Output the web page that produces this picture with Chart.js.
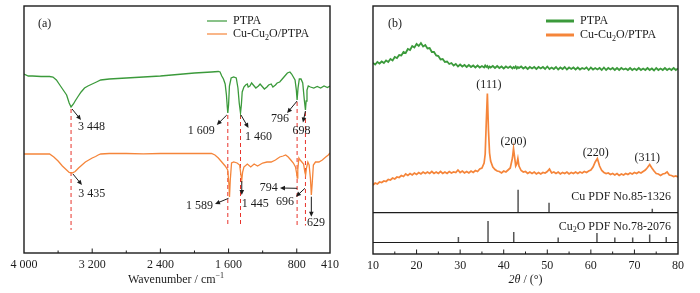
<!DOCTYPE html>
<html>
<head>
<meta charset="utf-8">
<script src="https://cdn.jsdelivr.net/npm/chart.js@4.4.1/dist/chart.umd.min.js"></script>
<style>
html,body{margin:0;padding:0;background:#fff;}
#wrap{position:relative;width:700px;height:293px;overflow:hidden;}
#wrap canvas{position:absolute;top:0;}
#ftir{left:0;}
#xrd{left:350px;}
</style>
</head>
<body>
<div id="wrap">
<canvas id="ftir" width="350" height="293"></canvas>
<canvas id="xrd" width="350" height="293"></canvas>
</div>
<script>
/* ---- (a) FTIR data, transmittance in arbitrary units ---- */
const ptpaWn = [4000,3950,3900,3800,3700, 3660,3620,3580,3540,3500, 3470,3448,3420,3400,3370,
  3330,3290,3250,3200,3150, 3100,3000,2900,2800,2600, 2400,2200,2000,1900,1800,
  1720,1700,1680,1660,1640, 1625,1615,1609,1600,1590, 1570,1540,1510,1490,1475,
  1460,1450,1440,1420,1400, 1380,1370,1350,1330,1300, 1280,1250,1230,1200,1180,
  1150,1130,1100,1080,1050, 1030,1000,970,940,910, 880,860,840,820,805,
  796,785,770,750,730, 710,698,690,680,665, 640,600,560,520,480, 440,410];
const ptpaT = [179,177,177,176.5,176.5, 176,173,168,163,158, 150,146,149,152,156,
  161,165,167,169,171, 173,174,174.5,175,176, 177,178.5,180,180.5,181,
  181.5,181,177,174,169, 158,146,140,148,167, 175,176,175,165,150,
  140,148,161,166,168, 169,166,167,170,167, 165,167,169,166,164,
  166,168,169,166,168, 170,171,174,177,180, 181,179,176,173,163,
  153,165,174,174,170, 152,143,152,163,167, 166,165,166.5,165,167, 165.5,167];

const compWn = [4000,3900,3800,3700,3650, 3600,3550,3500,3470,3435, 3400,3360,3320,3280,3240,
  3200,3160,3130,3100,3000, 2800,2600,2400,2200,2000, 1800,1760,1720,1680,1640,
  1610,1595,1589,1580,1565, 1540,1500,1470,1455,1445, 1435,1420,1380,1340,1300,
  1260,1200,1150,1100,1050, 1000,960,930,900,870, 840,815,800,794,788,
  775,760,740,720,705, 696,686,670,655,640, 629,620,605,580,540, 500,460,430,410];
const compT = [99,99,99,99,96, 92,87,83,80.5,80, 81.5,85,88,91,93,
  95,96.5,98,99,99.5, 99.5,99.2,99.5,99.7,99.5, 99.5,98,95,91,87,
  83,68,56,73,90, 91,90,88,78,73, 81,86,89,86,89,
  87,90,91,91,93, 96,97,98,96,93, 90,86,79,75,83,
  95,93,91,89,81, 78,85,91,88,75, 58,68,88,91,91, 93,96,98,100];

const ftirTicks = [4000,3200,2400,1600,800,410];
const ftirMinor = [3600,2800,2000,1200];

/* ---- (b) XRD data, intensity in arbitrary units ---- */
const theta = [10,10.5,11,11.5,12,12.5,13,13.5,14,14.5, 15,15.5,16,16.5,17,17.5,18,18.5,19,19.5,
  20,20.5,21,21.5,22,22.5,23,23.5,24,24.5, 25,25.5,26,26.5,27,27.5,28,28.5,29,29.5,
  30,30.5,31,31.5,32,32.5,33,33.5,34,34.5, 35,35.5,35.75,36,36.25,36.5,36.75,37,37.5,38,
  38.5,39,39.5,40,40.5,41,41.5,42,42.25,42.5, 42.75,43,43.25,43.5,44,44.5,45,45.5,46,46.5,
  47,47.5,48,48.5,49,49.5,50,50.5,51,51.5, 52,52.5,53,53.5,54,54.5,55,55.5,56,56.5,
  57,57.5,58,58.5,59,59.5,60,60.5,61,61.5, 62,62.5,63,63.5,64,64.5,65,65.5,66,66.5,
  67,67.5,68,68.5,69,69.5,70,70.5,71,71.5, 72,72.5,73,73.5,74,74.5,75,75.5,76,76.5,
  77,77.5,78,78.5,79,79.5,80];
const ptpaI = [191,189.5,192,190.5,192.5,191,193.5,192,195,193.5, 197,196,199,198.5,202,201,205,204,208,206.5,
  210,208,211,207.5,209,205.5,206,202,202,198.5, 198,194.5,195,192,192.5,190,191,188.5,190,187.5,
  189.5,187.5,189,187,189,187,188.5,186.5,188.5,186.5, 188,186.5,188.5,187,188,186,187.5,186.5,188,186,
  188,186,187.5,185.5,187.5,186,187.5,185.5,187,186, 187.5,185.5,187,186,187.5,185.5,187,185,187,185.5,
  187,185,187,185.5,187,185,187.5,185,186.5,185, 187,184.5,186.5,185,187,184.5,186.5,185,186.5,184.5,
  186.5,184.5,186,185,186.5,184,186.5,184.5,186,184.5, 186,184,186.5,184,186,184.5,186,184,186,184,
  186,184.5,185.5,184,186,184,185.5,184,186,184, 185.5,184,186,184,185.5,183.5,186,184,185.5,184,
  186,184,185.5,184,186,184,185.5];
const compI = [69,71,70,72,71.5,73,72.5,74.5,74,76, 75,77,76.5,78.5,77.5,80,78.5,80.5,79,81,
  79.5,81.5,80,82,80.5,82,80.5,82.5,80.5,82, 80.5,82.5,80.5,82,80.5,82.5,81,82,81.5,84,
  81.5,83,81,82.5,81,83,81.5,83.5,82.5,85, 86,91,100,132,160.5,124,101,93,87,84.5,
  83,82.5,81,83,82,84,86,96,105.5,97, 88,90,95.5,88,83.5,82,82.5,80.5,82,80.5,
  82,80,81.5,80,81.5,81,82.5,85,81,82, 80.5,82,80,81.5,80.5,82,80,81.5,80.5,82,
  80.5,82,81,82.5,81.5,83,84,87,92,95.5, 88,83.5,81.5,80.5,81,79.5,80.5,79,80.5,78.5,
  80,79,80.5,79.5,81,80,81.5,80.5,82,81, 82.5,84,86.5,89.5,86,83,80.5,80,78.5,80,
  80.5,82,79,78.5,77.5,78,77];

// reference patterns, relative intensity (%)
const cuPdfTheta = [43.3, 50.4, 74.1];
const cuPdfI = [100, 43, 17];
const cu2oPdfTheta = [29.6, 36.4, 42.3, 52.5, 61.4, 65.5, 69.6, 73.5, 77.3];
const cu2oPdfI = [26, 100, 49, 23, 44, 23, 23, 37, 26];

const xrdTicks = [20,30,40,50,60,70];
const xrdMinor = [15,25,35,45,55,65,75];

/* ---- styles ---- */
const green = '#3b9a3b';
const orange = '#f5853a';
const red = '#e8332b';
const ink = '#1c1c1c';
const serif = '"Liberation Serif", "Times New Roman", serif';

function fontOf(p){ return (p.i?'italic ':'') + (p.s?8:12) + 'px ' + serif; }

function rich(ctx, parts, x, y, align){
  let w = 0;
  parts.forEach(p=>{ ctx.font = fontOf(p); w += ctx.measureText(p.t).width; });
  let cx = align==='center' ? x - w/2 : align==='right' ? x - w : x;
  ctx.textAlign = 'left';
  ctx.textBaseline = 'middle';
  parts.forEach(p=>{
    ctx.font = fontOf(p);
    let dy = p.s==='sub' ? 3.5 : p.s==='sup' ? -4 : 0;
    ctx.fillText(p.t, cx, y + dy);
    cx += ctx.measureText(p.t).width;
  });
}

function arrow(ctx, x1, y1, x2, y2){
  let ang = Math.atan2(y2-y1, x2-x1), L = 5, W = 2.3;
  ctx.beginPath();
  ctx.moveTo(x1, y1);
  ctx.lineTo(x2 - Math.cos(ang)*L*0.8, y2 - Math.sin(ang)*L*0.8);
  ctx.stroke();
  ctx.beginPath();
  ctx.moveTo(x2, y2);
  ctx.lineTo(x2 - L*Math.cos(ang) + W*Math.sin(ang), y2 - L*Math.sin(ang) - W*Math.cos(ang));
  ctx.lineTo(x2 - L*Math.cos(ang) - W*Math.sin(ang), y2 - L*Math.sin(ang) + W*Math.cos(ang));
  ctx.closePath();
  ctx.fill();
}

function frameAndTicks(chart, majors, minors){
  const {ctx, chartArea:a, scales:{x}} = chart;
  ctx.strokeStyle = ink;
  ctx.lineWidth = 1;
  majors.concat(minors).forEach(v=>{
    let px = x.getPixelForValue(v), len = majors.includes(v) ? 4.5 : 2.5;
    ctx.beginPath(); ctx.moveTo(px, a.bottom); ctx.lineTo(px, a.bottom - len); ctx.stroke();
  });
  ctx.lineWidth = 1.4;
  ctx.strokeRect(a.left, a.top, a.right - a.left, a.bottom - a.top);
}

function legend(ctx, x0, len, ys, width){
  const compName = [{t:'Cu-Cu'},{t:'2',s:'sub'},{t:'O/PTPA'}];
  ctx.lineWidth = width;
  [[green,[{t:'PTPA'}]],[orange,compName]].forEach((it,i)=>{
    ctx.strokeStyle = it[0];
    ctx.beginPath(); ctx.moveTo(x0, ys[i]); ctx.lineTo(x0 + len, ys[i]); ctx.stroke();
    ctx.fillStyle = ink;
    rich(ctx, it[1], x0 + len + 6, ys[i], 'left');
  });
}

function fmt(v){ return v >= 1000 ? String(v).replace(/(\d)(\d{3})$/, '$1 $2') : String(v); }

/* ---- (a) band labels: arrow and text offsets in px from the band point ---- */
const ptpaNotes = [
  {wn:3448, text:'3 448', a:[1,2,10,13], t:[7,20], al:'left', dash:23},
  {wn:1609, text:'1 609', a:[-1,2,-11,12], t:[-13,18], al:'right', dash:27.5},
  {wn:1460, text:'1 460', a:[0.5,2,8,15], t:[4.5,23.5], al:'left', dash:27.5},
  {wn:796, text:'796', a:[0,1,-10,13], t:[-8,19], al:'right', dash:27.5},
  {wn:698, text:'698', a:[0,1,-2.5,12.5], t:[-4,21], al:'center', dash:27.5}
];
const compNotes = [
  {wn:3435, text:'3 435', a:[0.8,1,9.8,12], t:[6,21], al:'left'},
  {wn:1589, text:'1 589', a:[-1,1.3,-14.5,7], t:[-16.5,9], al:'right'},
  {wn:1445, text:'1 445', a:[0,1,0,15], t:[0,24], al:'left'},
  {wn:794, text:'794', a:[0,10.3,-17.3,10], t:[-19.6,10], al:'right'},
  {wn:696, text:'696', a:[-0.7,13.3,-9.7,21.7], t:[-11.7,26.7], al:'right'},
  {wn:629, text:'629', a:[0,1.7,0,21.7], t:[4.7,28], al:'center'}
];

const ftirDecor = {
  id:'ftirDecor',
  beforeDatasetsDraw(chart){
    const {ctx, scales:{x,y}} = chart;
    ctx.save();
    ctx.strokeStyle = red; ctx.lineWidth = 1; ctx.setLineDash([4,3]);
    ptpaNotes.forEach(n=>{
      let px = x.getPixelForValue(n.wn);
      let py = y.getPixelForValue(ptpaT[ptpaWn.indexOf(n.wn)]);
      ctx.beginPath(); ctx.moveTo(px, py + 2); ctx.lineTo(px, y.getPixelForValue(n.dash)); ctx.stroke();
    });
    ctx.restore();
  },
  afterDatasetsDraw(chart){
    const {ctx, chartArea:a, scales:{x,y}} = chart;
    ctx.save();
    ctx.strokeStyle = ink; ctx.fillStyle = ink; ctx.lineWidth = 1;
    [[ptpaNotes, ptpaWn, ptpaT],[compNotes, compWn, compT]].forEach(g=>{
      g[0].forEach(n=>{
        let px = x.getPixelForValue(n.wn);
        let py = y.getPixelForValue(g[2][g[1].indexOf(n.wn)]);
        arrow(ctx, px + n.a[0], py + n.a[1], px + n.a[2], py + n.a[3]);
        rich(ctx, [{t:n.text}], px + n.t[0], py + n.t[1], n.al);
      });
    });
    frameAndTicks(chart, ftirTicks.slice(1,5), ftirMinor);
    legend(ctx, a.left + 183, 20, [a.top + 15, a.top + 28], 1.2);
    ctx.fillStyle = ink;
    rich(ctx, [{t:'(a)'}], a.left + 14, a.top + 18, 'left');
    rich(ctx, [{t:'Wavenumber / cm'},{t:'\u22121',s:'sup'}], (a.left + a.right)/2 - 1, 280, 'center');
    ctx.restore();
  }
};

/* ---- (b) ---- */
const cuBase = 41.3, cu2oBase = 11.5;   // baselines of the reference-card strips
const hkl = [
  {th:36.25, text:'(111)', dx:1.5, dy:-8.5},
  {th:42.25, text:'(200)', dx:0, dy:-6.8},
  {th:61.5, text:'(220)', dx:-1.7, dy:-5.2},
  {th:73.5, text:'(311)', dx:-2.5, dy:-6.8}
];

function sticks(th, rel, base, full){
  let pts = [];
  th.forEach((t,i)=>{
    pts.push({x:t, y:base}, {x:t, y:base + rel[i]/100*full}, {x:t, y:null});
  });
  return pts;
}

const xrdDecor = {
  id:'xrdDecor',
  afterDatasetsDraw(chart){
    const {ctx, chartArea:a, scales:{x,y}} = chart;
    ctx.save();
    ctx.strokeStyle = ink; ctx.lineWidth = 1.2;
    [cuBase, cu2oBase].forEach(v=>{
      let py = y.getPixelForValue(v);
      ctx.beginPath(); ctx.moveTo(a.left, py); ctx.lineTo(a.right, py); ctx.stroke();
    });
    ctx.fillStyle = ink;
    hkl.forEach(h=>{
      let px = x.getPixelForValue(h.th);
      let py = y.getPixelForValue(compI[theta.indexOf(h.th)]);
      rich(ctx, [{t:h.text}], px + h.dx, py + h.dy, 'center');
    });
    rich(ctx, [{t:'Cu PDF No.85-1326'}], a.right - 7, y.getPixelForValue(cuBase) - 16, 'right');
    rich(ctx, [{t:'Cu'},{t:'2',s:'sub'},{t:'O PDF No.78-2076'}], a.right - 7, y.getPixelForValue(cu2oBase) - 16, 'right');
    frameAndTicks(chart, xrdTicks, xrdMinor);
    legend(ctx, a.left + 173, 28, [a.top + 15, a.top + 29], 3);
    ctx.fillStyle = ink;
    rich(ctx, [{t:'(b)'}], a.left + 15, a.top + 18, 'left');
    rich(ctx, [{t:'2\u03b8',i:true},{t:' / (\u00b0)'}], (a.left + a.right)/2, 280, 'center');
    ctx.restore();
  }
};

const tickFont = {family:'Liberation Serif', size:12};

new Chart(document.getElementById('ftir'), {
  type:'line',
  data:{datasets:[
    {label:'PTPA', data:ptpaWn.map((w,i)=>({x:w, y:ptpaT[i]})), borderColor:green, borderWidth:1.3, pointRadius:0, tension:0},
    {label:'Cu-Cu2O/PTPA', data:compWn.map((w,i)=>({x:w, y:compT[i]})), borderColor:orange, borderWidth:1.3, pointRadius:0, tension:0}
  ]},
  options:{
    responsive:false,
    animation:false,
    layout:{padding:{left:24, right:20, top:6, bottom:0}},
    plugins:{legend:{display:false}, tooltip:{enabled:false}},
    scales:{
      x:{type:'linear', reverse:true, min:410, max:4000,
        afterBuildTicks:function(s){ s.ticks = ftirTicks.map(v=>({value:v})); },
        afterFit:function(s){ s.height = 40; },
        grid:{display:false, drawTicks:false}, border:{display:false},
        ticks:{autoSkip:false, maxRotation:0, padding:5, color:ink, font:tickFont, callback:v=>fmt(v)}},
      y:{display:false, min:0, max:247}
    }
  },
  plugins:[ftirDecor]
});

new Chart(document.getElementById('xrd'), {
  type:'line',
  data:{datasets:[
    {label:'PTPA', data:theta.map((t,i)=>({x:t, y:ptpaI[i]})), borderColor:green, borderWidth:1.8, pointRadius:0, tension:0},
    {label:'Cu-Cu2O/PTPA', data:theta.map((t,i)=>({x:t, y:compI[i]})), borderColor:orange, borderWidth:1.7, pointRadius:0, tension:0},
    {label:'Cu PDF', data:sticks(cuPdfTheta, cuPdfI, cuBase, 23), borderColor:'#555', borderWidth:1.5, pointRadius:0, spanGaps:false},
    {label:'Cu2O PDF', data:sticks(cu2oPdfTheta, cu2oPdfI, cu2oBase, 21.5), borderColor:'#555', borderWidth:1.5, pointRadius:0, spanGaps:false}
  ]},
  options:{
    responsive:false,
    animation:false,
    layout:{padding:{left:23, right:22, top:6, bottom:0}},
    plugins:{legend:{display:false}, tooltip:{enabled:false}},
    scales:{
      x:{type:'linear', min:10, max:80,
        afterFit:function(s){ s.height = 39; },
        grid:{display:false, drawTicks:false}, border:{display:false},
        ticks:{stepSize:10, autoSkip:false, maxRotation:0, padding:5, color:ink, font:tickFont}},
      y:{display:false, min:0, max:248}
    }
  },
  plugins:[xrdDecor]
});
</script>
</body>
</html>
